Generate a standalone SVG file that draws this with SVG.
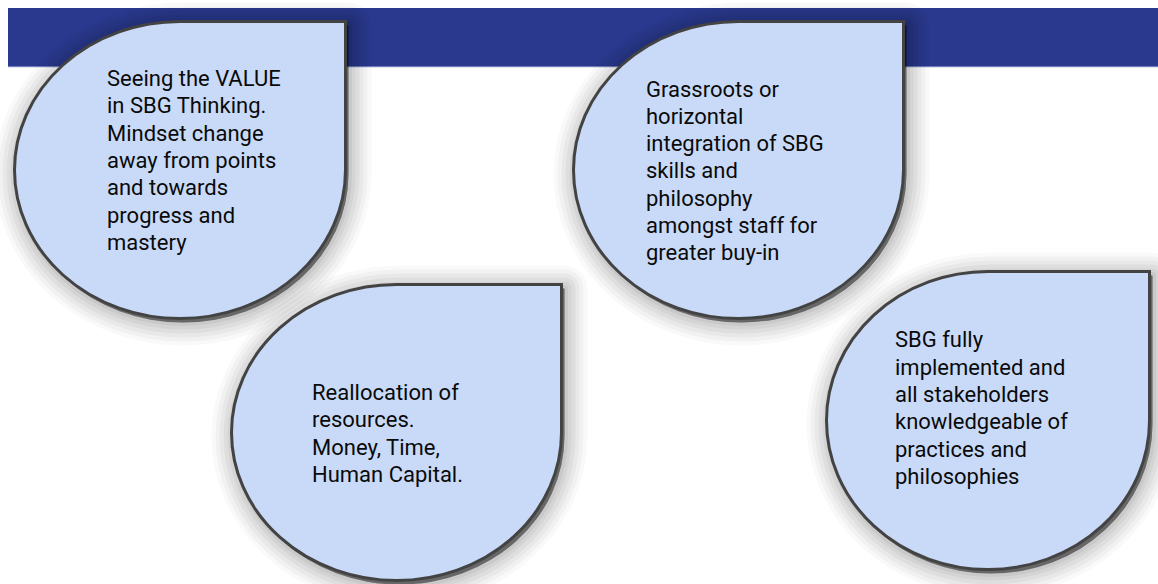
<svg xmlns="http://www.w3.org/2000/svg" width="1158" height="584" viewBox="0 0 1158 584">
  <defs>
    <path id="drop-value" d="M14.5,170 A165.5,148.5 0 0 1 180,21.5 L345.5,21.5 L345.5,170 A165.5,148.5 0 0 1 180,318.5 A165.5,148.5 0 0 1 14.5,170 Z"/>
    <path id="drop-grassroots" d="M573.5,170 A165,148.5 0 0 1 738.5,21.5 L903.5,21.5 L903.5,170 A165,148.5 0 0 1 738.5,318.5 A165,148.5 0 0 1 573.5,170 Z"/>
    <path id="drop-reallocation" d="M231.5,432.5 A165,148 0 0 1 396.5,284.5 L561.5,284.5 L561.5,432.5 A165,148 0 0 1 396.5,580.5 A165,148 0 0 1 231.5,432.5 Z"/>
    <path id="drop-implemented" d="M826.5,420.5 A161.5,149 0 0 1 988,271.5 L1149.5,271.5 L1149.5,420.5 A161.5,149 0 0 1 988,569.5 A161.5,149 0 0 1 826.5,420.5 Z"/>
  </defs>
  <style>
    /* soft shadow: stacked translucent strokes of decreasing width */
    .sh { fill: #000; fill-opacity: 0.1; stroke: #000; stroke-linejoin: round; }
    .s1 { stroke-width: 46; stroke-opacity: 0.025; }
    .s2 { stroke-width: 38; stroke-opacity: 0.03; }
    .s3 { stroke-width: 30; stroke-opacity: 0.035; }
    .s4 { stroke-width: 22; stroke-opacity: 0.04; }
    .s5 { stroke-width: 14; stroke-opacity: 0.045; }
    .s6 { stroke-width: 7; stroke-opacity: 0.05; }
    .drop { fill: #c9daf8; stroke: #434343; stroke-width: 3; stroke-linejoin: miter; }
    .label { font-family: Roboto, "Liberation Sans", sans-serif; font-size: 22px; fill: #0a0a0a; }
  </style>

  <!-- header band -->
  <rect x="8" y="8" width="1150" height="58" fill="#2a398e"/>
  <rect x="8" y="66" width="1150" height="1.2" fill="#6f7cbc"/>

  <!-- soft shadows under the drops -->
  <g id="shadows" transform="translate(3,4)">
    <g class="sh">
      <use href="#drop-value" class="s1"/><use href="#drop-value" class="s2"/><use href="#drop-value" class="s3"/><use href="#drop-value" class="s4"/><use href="#drop-value" class="s5"/><use href="#drop-value" class="s6"/>
      <use href="#drop-grassroots" class="s1"/><use href="#drop-grassroots" class="s2"/><use href="#drop-grassroots" class="s3"/><use href="#drop-grassroots" class="s4"/><use href="#drop-grassroots" class="s5"/><use href="#drop-grassroots" class="s6"/>
      <use href="#drop-reallocation" class="s1"/><use href="#drop-reallocation" class="s2"/><use href="#drop-reallocation" class="s3"/><use href="#drop-reallocation" class="s4"/><use href="#drop-reallocation" class="s5"/><use href="#drop-reallocation" class="s6"/>
      <use href="#drop-implemented" class="s1"/><use href="#drop-implemented" class="s2"/><use href="#drop-implemented" class="s3"/><use href="#drop-implemented" class="s4"/><use href="#drop-implemented" class="s5"/><use href="#drop-implemented" class="s6"/>
    </g>
  </g>

  <g id="node-value">
    <use href="#drop-value" class="drop"/>
    <text class="label">
      <tspan x="107" y="86">Seeing the VALUE</tspan>
      <tspan x="107" y="113.3">in SBG Thinking.</tspan>
      <tspan x="107" y="140.6">Mindset change</tspan>
      <tspan x="107" y="167.9">away from points</tspan>
      <tspan x="107" y="195.2">and towards</tspan>
      <tspan x="107" y="222.5">progress and</tspan>
      <tspan x="107" y="249.8">mastery</tspan>
    </text>
  </g>

  <g id="node-grassroots">
    <use href="#drop-grassroots" class="drop"/>
    <text class="label">
      <tspan x="646" y="96.7">Grassroots or</tspan>
      <tspan x="646" y="123.9">horizontal</tspan>
      <tspan x="646" y="151.1">integration of SBG</tspan>
      <tspan x="646" y="178.3">skills and</tspan>
      <tspan x="646" y="205.5">philosophy</tspan>
      <tspan x="646" y="232.7">amongst staff for</tspan>
      <tspan x="646" y="259.9">greater buy-in</tspan>
    </text>
  </g>

  <g id="node-reallocation">
    <use href="#drop-reallocation" class="drop"/>
    <text class="label">
      <tspan x="312" y="400">Reallocation of</tspan>
      <tspan x="312" y="427.3">resources.</tspan>
      <tspan x="312" y="454.6">Money, Time,</tspan>
      <tspan x="312" y="481.9">Human Capital.</tspan>
    </text>
  </g>

  <g id="node-implemented">
    <use href="#drop-implemented" class="drop"/>
    <text class="label">
      <tspan x="895" y="347.3">SBG fully</tspan>
      <tspan x="895" y="374.6">implemented and</tspan>
      <tspan x="895" y="401.9">all stakeholders</tspan>
      <tspan x="895" y="429.2">knowledgeable of</tspan>
      <tspan x="895" y="456.5">practices and</tspan>
      <tspan x="895" y="483.8">philosophies</tspan>
    </text>
  </g>

  <g id="connectors"/>
</svg>
